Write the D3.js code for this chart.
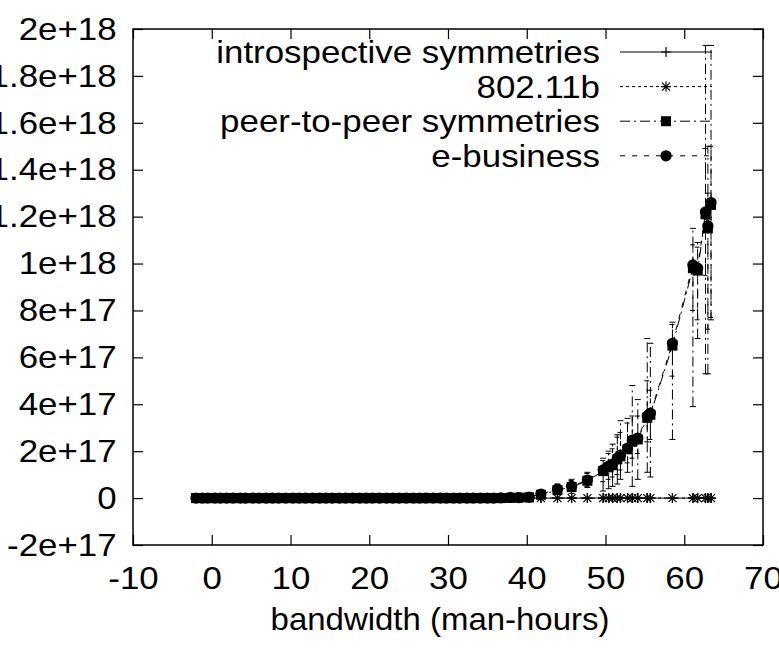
<!DOCTYPE html>
<html>
<head>
<meta charset="utf-8">
<script src="https://cdn.jsdelivr.net/npm/d3@7"></script>
<style>
  body { margin: 0; background: #fff; }
  text { font-family: "Liberation Sans", Arial, sans-serif; fill: #000; }
</style>
</head>
<body>
<div id="chart-area"></div>
<script>
// data (y values in units of 1e17)
var bandwidth = [-2.0, -1.2, -0.5, 0.4, 1.1, 1.9, 2.7, 3.6, 4.3, 5.2, 6.0, 6.9, 7.7, 8.5, 9.4,
    10.3, 11.1, 11.9, 12.8, 13.7, 14.5, 15.3, 16.2, 17.0, 17.9, 18.8, 19.6, 20.4, 21.3, 22.2,
    23.0, 23.8, 24.7, 25.6, 26.4, 27.2, 28.1, 29.0, 29.8, 30.7, 31.5, 32.4, 33.2, 34.1, 35.0,
    35.8, 36.7, 37.9, 39.0, 40.3, 41.8, 43.9, 45.7, 47.7, 49.7, 50.4, 50.9, 51.5, 51.9, 52.8,
    53.4, 54.1, 55.3, 55.7, 58.5, 61.1, 61.7, 62.7, 63.0, 63.4];

var introspective = [0, 0, 0, 0, 0, 0, 0, 0, 0, 0, 0, 0, 0, 0, 0,
    0, 0, 0, 0, 0, 0, 0, 0, 0, 0, 0, 0, 0, 0, 0,
    0, 0, 0, 0, 0, 0, 0, 0, 0, 0, 0, 0, 0, 0, 0,
    0, 0, 0, 0, 0, 0, 0, 0, 0, 0, 0, 0, 0, 0, 0,
    0, 0, 0, 0, 0, 0, 0, 0, 0, 0];

var wifi = [0, 0, 0, 0, 0, 0, 0, 0, 0, 0, 0, 0, 0, 0, 0,
    0, 0, 0, 0, 0, 0, 0, 0, 0, 0, 0, 0, 0, 0, 0,
    0, 0, 0, 0, 0, 0, 0, 0, 0, 0, 0, 0, 0, 0, 0,
    0, 0, 0, 0, 0, 0, 0, 0, 0, 0, 0, 0, 0, 0, 0,
    0, 0, 0, 0, 0, 0, 0, 0, 0, 0];

var peerToPeer = [0, 0, 0, 0, 0, 0, 0, 0, 0, 0, 0, 0, 0, 0, 0,
    0, 0, 0, 0, 0, 0, 0, 0, 0, 0, 0, 0, 0, 0, 0,
    0, 0, 0, 0, 0, 0, 0, 0, 0, 0, 0, 0, 0, 0, 0,
    0, 0, 0.01, 0.02, 0.03, 0.14, 0.34, 0.47, 0.74, 1.15, 1.31, 1.40, 1.65, 1.78, 2.08,
    2.40, 2.50, 3.42, 3.55, 6.50, 9.80, 9.70, 12.1, 11.5, 12.5];

var eBusiness = [0, 0, 0, 0, 0, 0, 0, 0, 0, 0, 0, 0, 0, 0, 0,
    0, 0, 0, 0, 0, 0, 0, 0, 0, 0, 0, 0, 0, 0, 0,
    0, 0, 0, 0, 0, 0, 0, 0, 0, 0, 0, 0, 0, 0, 0,
    0, 0.01, 0.03, 0.02, 0.04, 0.17, 0.38, 0.50, 0.77, 1.20, 1.36, 1.45, 1.70, 1.83, 2.13,
    2.47, 2.56, 3.50, 3.62, 6.60, 9.94, 9.80, 12.2, 11.6, 12.6];

// error bars for the last 20 points (low, high)
var p2pLow  = [0.0, 0.15, 0.2, 0.45, 0.3, 0.4, 0.5, 0.6, 0.8, 1.1, 0.5, 0.8, 1.1, 0.9, 2.5, 3.9, 6.8, 5.3, 5.3, 7.6];
var p2pHigh = [0.3, 0.6, 0.8, 1.1, 1.7, 2.0, 2.3, 2.7, 3.3, 3.4, 4.8, 4.2, 6.8, 6.6, 7.5, 11.5, 10.9, 19.3, 15.0, 19.3];
var ebizLow  = [0.05, 0.2, 0.3, 0.5, 0.7, 0.8, 0.9, 1.0, 1.2, 1.5, 1.7, 1.9, 2.4, 2.5, 5.2, 8.0, 7.6, 9.5, 7.2, 7.7];
var ebizHigh = [0.3, 0.55, 0.75, 1.05, 1.6, 1.9, 2.1, 2.6, 2.8, 3.2, 3.5, 3.5, 5.0, 4.6, 7.4, 10.8, 10.7, 14.9, 13.0, 15.0];

var seriesNames = ["introspective symmetries", "802.11b", "peer-to-peer symmetries", "e-business"];

var xTicks = [-10, 0, 10, 20, 30, 40, 50, 60, 70];
var xTickLabels = ["-10", "0", "10", "20", "30", "40", "50", "60", "70"];
var yTicks = [-2, 0, 2, 4, 6, 8, 10, 12, 14, 16, 18, 20];
var yTickLabels = ["-2e+17", "0", "2e+17", "4e+17", "6e+17", "8e+17", "1e+18",
    "1.2e+18", "1.4e+18", "1.6e+18", "1.8e+18", "2e+18"];

var xTitle = "bandwidth (man-hours)";

// layout
var W = 779, H = 649;
var margin = { top: 29, right: 16, bottom: 104, left: 133 };
var width = W - margin.left - margin.right;
var height = H - margin.top - margin.bottom;
var fontSize = 32;
var stretch = "scale(1.09,1)";

var svg = d3.select("#chart-area").append("svg")
    .attr("width", W)
    .attr("height", H);

var g = svg.append("g")
    .attr("transform", "translate(" + margin.left + "," + margin.top + ")");

var x = d3.scaleLinear().domain([-10, 70]).range([0, width]);
var y = d3.scaleLinear().domain([-2, 20]).range([height, 0]);

// axes with inward ticks
var xAxis = d3.axisBottom(x).tickValues(xTicks)
    .tickFormat(function(d, i) { return xTickLabels[i]; })
    .tickSizeInner(-10).tickSizeOuter(0).tickPadding(21);
var yAxis = d3.axisLeft(y).tickValues(yTicks)
    .tickFormat(function(d, i) { return yTickLabels[i]; })
    .tickSizeInner(-10).tickSizeOuter(0).tickPadding(15);

g.append("g").attr("transform", "translate(0," + height + ")").call(xAxis);
g.append("g").call(yAxis);
g.append("g").call(d3.axisTop(x).tickValues(xTicks).tickSizeInner(-10).tickSizeOuter(0).tickFormat(""));
g.append("g").attr("transform", "translate(" + width + ",0)")
    .call(d3.axisRight(y).tickValues(yTicks).tickSizeInner(-10).tickSizeOuter(0).tickFormat(""));

g.selectAll(".domain").remove();
g.selectAll(".tick line").attr("stroke", "#000").attr("stroke-width", 1.2);
g.selectAll(".tick text")
    .attr("font-size", fontSize + "px")
    .attr("font-family", null)
    .attr("transform", stretch);

g.append("rect")
    .attr("width", width).attr("height", height)
    .attr("fill", "none").attr("stroke", "#000").attr("stroke-width", 1.5);

g.append("text")
    .attr("transform", "translate(" + (width / 2 - 8) + "," + (height + 85) + ") scale(1.03,1)")
    .attr("text-anchor", "middle")
    .attr("font-size", fontSize + "px")
    .text(xTitle);

// series
var dashes = [null, "3,3", "10,4,2,4", "5,7"];
var values = [introspective, wifi, peerToPeer, eBusiness];

function marker(sel, k) {
    if (k === 0) {
        sel.append("path").attr("d", "M-5,0H5M0,-5V5").attr("stroke", "#000").attr("stroke-width", 1.2);
    } else if (k === 1) {
        sel.append("path").attr("d", "M-5,0H5M0,-5V5M-4,-4L4,4M-4,4L4,-4").attr("stroke", "#000").attr("stroke-width", 1.2);
    } else if (k === 2) {
        sel.append("path").attr("d", d3.symbol(d3.symbolSquare, 100)()).attr("fill", "#000");
    } else {
        sel.append("path").attr("d", d3.symbol(d3.symbolCircle, 100)()).attr("fill", "#000");
    }
}

var plot = g.append("g");
var offset = bandwidth.length - p2pLow.length;

function drawErrors(k, low, high) {
    var eg = plot.append("g")
        .attr("stroke", "#000").attr("stroke-width", 1)
        .attr("stroke-dasharray", dashes[k]).attr("fill", "none");
    low.forEach(function(lo, i) {
        var xv = x(bandwidth[i + offset]);
        eg.append("line").attr("x1", xv).attr("x2", xv).attr("y1", y(lo)).attr("y2", y(high[i]));
        eg.append("line").attr("x1", xv - 3).attr("x2", xv + 3).attr("y1", y(lo)).attr("y2", y(lo));
        eg.append("line").attr("x1", xv - 3).attr("x2", xv + 3).attr("y1", y(high[i])).attr("y2", y(high[i]));
    });
}
drawErrors(2, p2pLow, p2pHigh);
drawErrors(3, ebizLow, ebizHigh);

var line = d3.line().x(function(d) { return x(d[0]); }).y(function(d) { return y(d[1]); });

values.forEach(function(vals, k) {
    var pts = bandwidth.map(function(b, i) { return [b, vals[i]]; });
    plot.append("path")
        .datum(pts)
        .attr("d", line)
        .attr("fill", "none")
        .attr("stroke", "#000")
        .attr("stroke-width", 1)
        .attr("stroke-dasharray", dashes[k]);
    plot.selectAll(".m" + k).data(pts).enter().append("g")
        .attr("class", "m" + k)
        .attr("transform", function(d) { return "translate(" + x(d[0]) + "," + y(d[1]) + ")"; })
        .each(function() { marker(d3.select(this), k); });
});

// legend
var legend = g.append("g");
seriesNames.forEach(function(name, k) {
    var ly = 23 + k * 34.6;
    legend.append("text")
        .attr("transform", "translate(467," + ly + ") " + stretch)
        .attr("dy", "0.35em")
        .attr("text-anchor", "end")
        .attr("font-size", fontSize + "px")
        .text(name);
    legend.append("line")
        .attr("x1", 487).attr("x2", 579).attr("y1", ly).attr("y2", ly)
        .attr("stroke", "#000").attr("stroke-width", 1)
        .attr("stroke-dasharray", dashes[k]);
    var mg = legend.append("g").attr("transform", "translate(533," + ly + ")");
    marker(mg, k);
});
</script>
</body>
</html>
